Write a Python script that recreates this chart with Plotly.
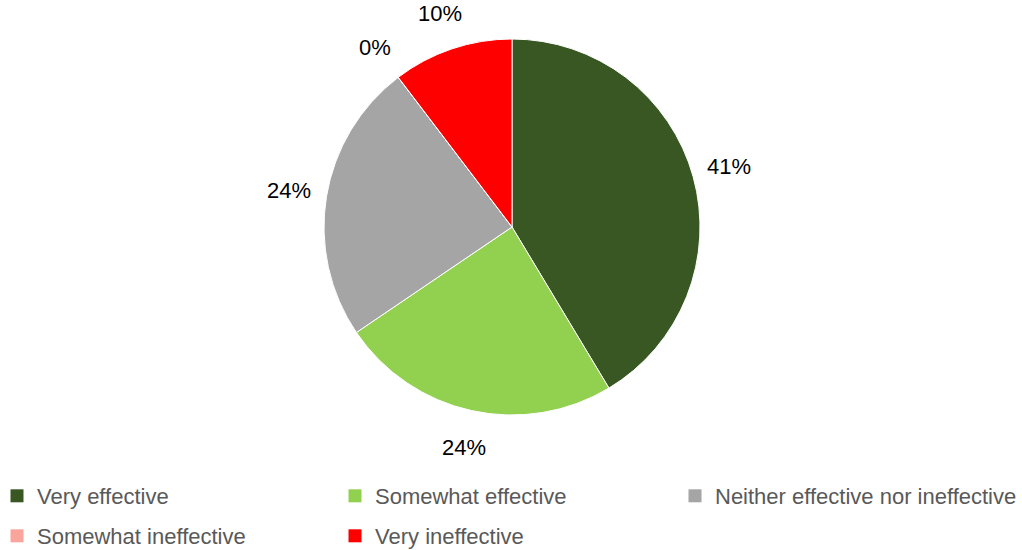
import math
import plotly.graph_objects as go

# ---- data ----
categories = [
    "Very effective",
    "Somewhat effective",
    "Neither effective nor ineffective",
    "Somewhat ineffective",
    "Very ineffective",
]
counts = [12, 7, 7, 0, 3]
colors = ["#385723", "#92D050", "#A5A5A5", "#FAA59C", "#FF0000"]

# ---- layout constants ----
W, H = 1022, 550
cx, cy, R = 512, 227, 188          # pie centre / radius in pixels
label_r = 1.2 * R                  # radius for outside labels
legend_cols = [-3, 335, 675]       # legend column offsets (px)
legend_rows = [496, 536]           # legend row centres (px)

fig = go.Figure()
fig.add_trace(go.Pie(
    labels=categories,
    values=counts,
    sort=False,
    direction="clockwise",
    rotation=0,
    marker=dict(colors=colors, line=dict(color="white", width=1)),
    textinfo="none",
    hoverinfo="label+percent",
    showlegend=False,
    domain=dict(x=[(cx - R) / W, (cx + R) / W],
                y=[1 - (cy + R) / H, 1 - (cy - R) / H]),
))

# percentage labels placed outside each slice at its mid angle
total = sum(counts)
cum = 0.0
annotations = []
for c in counts:
    frac = c / total
    mid = (cum + frac / 2) * 2 * math.pi
    cum += frac
    px = cx + label_r * math.sin(mid)
    py = cy - label_r * math.cos(mid)
    annotations.append(dict(
        x=px / W, y=1 - py / H, xref="paper", yref="paper",
        text=f"{round(100 * frac)}%", showarrow=False,
        xanchor="center", yanchor="middle",
        font=dict(family="Liberation Sans", size=22, color="#000000"),
    ))

# legend: one dummy legend entry per category, laid out in a 3-column grid
legend_layouts = {}
for i, (cat, col) in enumerate(zip(categories, colors)):
    name = "legend" if i == 0 else f"legend{i + 1}"
    fig.add_trace(go.Scatter(
        x=[None], y=[None], mode="markers", name=cat,
        marker=dict(symbol="square", size=13, color=col),
        legend=name, showlegend=True, hoverinfo="skip",
    ))
    legend_layouts[name] = dict(
        x=legend_cols[i % 3] / W, xanchor="left",
        y=1 - legend_rows[i // 3] / H, yanchor="middle",
        orientation="h", bgcolor="rgba(0,0,0,0)", borderwidth=0,
        font=dict(family="Liberation Sans", size=22, color="#595959"),
    )

fig.update_layout(
    width=W, height=H,
    margin=dict(l=0, r=0, t=0, b=0, autoexpand=False),
    paper_bgcolor="white", plot_bgcolor="white",
    xaxis=dict(visible=False), yaxis=dict(visible=False),
    annotations=annotations,
    **legend_layouts,
)

fig.write_html("out.html")
